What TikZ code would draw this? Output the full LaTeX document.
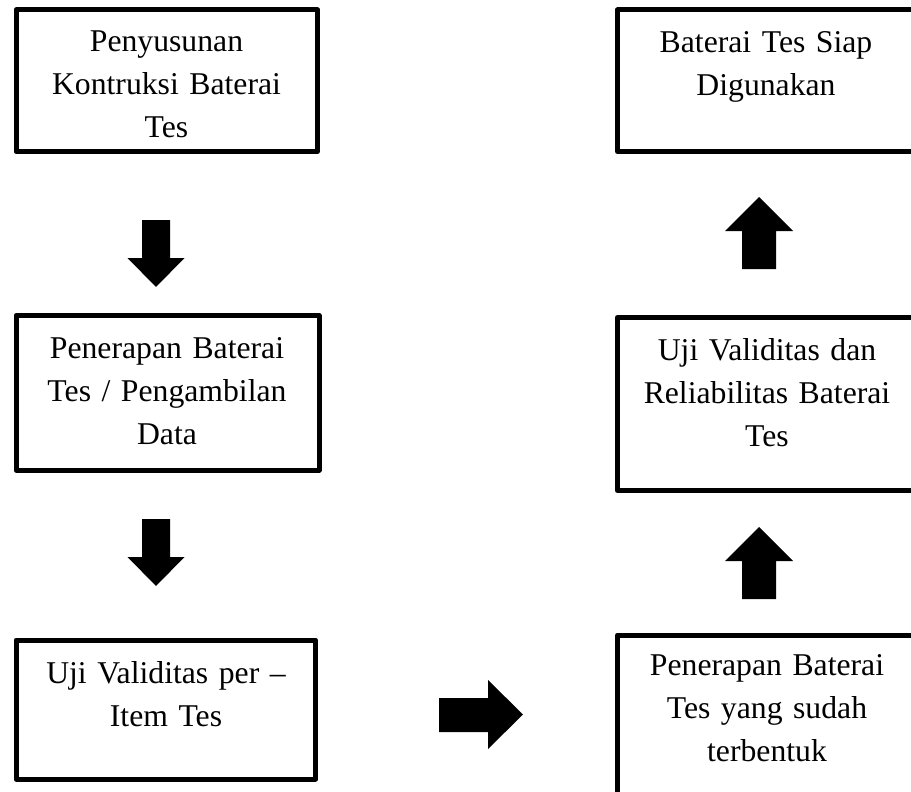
\documentclass[tikz,border=0pt]{standalone}
\usepackage{fontspec}
\setmainfont{Liberation Serif}
\begin{document}
\begin{tikzpicture}[x=1pt,y=-1pt,
  box/.style={draw=black, line width=5pt, rectangle, inner sep=0pt, outer sep=0pt, line join=round},
  txt/.style={anchor=base, text width=300pt, align=center, inner sep=0pt,
              font=\fontsize{31.7}{43}\selectfont},
  blk/.style={fill=black}]
\useasboundingbox (0,0) rectangle (911,792);
\clip (0,0) rectangle (911,792);
\fill[white] (0,0) rectangle (911,792);

% boxes (left column)
\node[box, minimum width=301.5pt, minimum height=141.5pt] (b1) at (166.75,80.75) {};
\node[box, minimum width=303pt, minimum height=154.5pt] (b2) at (167.5,392.75) {};
\node[box, minimum width=299.5pt, minimum height=139pt] (b3) at (165.75,709.5) {};
% boxes (right column)
\node[box, minimum width=300pt, minimum height=161pt] (b4) at (767.5,715.5) {};
\node[box, minimum width=300pt, minimum height=173pt] (b5) at (767.5,404) {};
\node[box, minimum width=300pt, minimum height=141.5pt] (b6) at (767.5,80.75) {};

% texts
\node[txt] (t1) at (166.5,52) {Penyusunan\\Kontruksi Baterai\\Tes};
\node[txt] (t2) at (167,358) {Penerapan Baterai\\Tes / Pengambilan\\Data};
\node[txt] (t3) at (166,683) {Uji Validitas per –\\Item Tes};
\node[txt] (t4) at (767,675) {Penerapan Baterai\\Tes yang sudah\\terbentuk};
\node[txt] (t5) at (767,360) {Uji Validitas dan\\Reliabilitas Baterai\\Tes};
\node[txt] (t6) at (766,53) {Baterai Tes Siap\\Digunakan};

% block arrows
\fill[blk] (142,220) -- (170,220) -- (170,258) -- (184.5,258) -- (156,287) -- (127.5,258) -- (142,258) -- cycle;
\fill[blk] (142,519) -- (170,519) -- (170,557) -- (184.5,557) -- (156,586) -- (127.5,557) -- (142,557) -- cycle;
\fill[blk] (439,698) -- (488,698) -- (488,680) -- (523,714.5) -- (488,749) -- (488,732) -- (439,732) -- cycle;
\fill[blk] (742,599) -- (776,599) -- (776,561) -- (793,561) -- (759,527) -- (725,561) -- (742,561) -- cycle;
\fill[blk] (742,269) -- (776,269) -- (776,231) -- (793,231) -- (759,197) -- (725,231) -- (742,231) -- cycle;
\end{tikzpicture}
\end{document}
